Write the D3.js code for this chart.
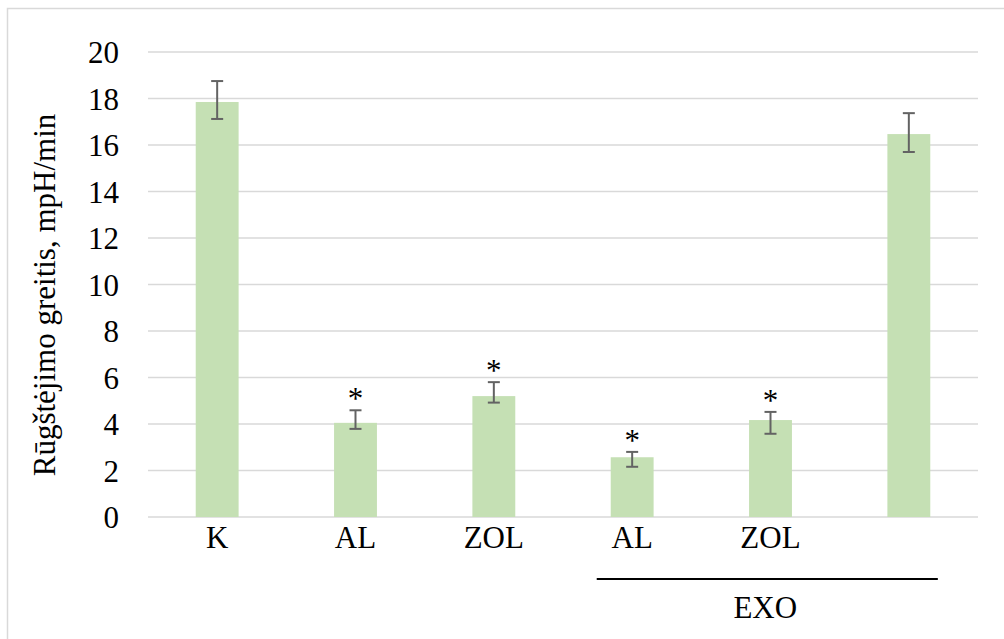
<!DOCTYPE html>
<html>
<head>
<meta charset="utf-8">
<script src="https://cdn.jsdelivr.net/npm/d3@7/dist/d3.min.js"></script>
<style>
  html, body { margin: 0; padding: 0; background: #fff; }
  svg { display: block; }
</style>
</head>
<body>
<svg id="chart" width="1004" height="639"></svg>
<script>
// Acidification rate per treatment (mean, upper and lower error)
const categories = ["K", "AL", "ZOL", "AL", "ZOL", ""];
const values     = [17.85, 4.05, 5.2, 2.57, 4.17, 16.47];
const errPlus    = [0.9, 0.54, 0.6, 0.23, 0.35, 0.9];
const errMinus   = [0.73, 0.26, 0.28, 0.41, 0.59, 0.77];
const significant = [false, true, true, true, true, false];
const yTicks     = [0, 2, 4, 6, 8, 10, 12, 14, 16, 18, 20];
const groupLabel = "EXO";
const groupMembers = [3, 4, 5];
const yTitle = "Rūgštėjimo greitis, mpH/min";

const FONT = "Liberation Serif";
const FONT_SIZE = 31;

const data = categories.map((c, i) => ({
  i, cat: c, v: values[i], hi: values[i] + errPlus[i], lo: values[i] - errMinus[i], sig: significant[i]
}));

const svg = d3.select("#chart");
const plot = { left: 148, right: 978, top: 52, bottom: 517 };

function serif(sel) {
  return sel.attr("font-family", FONT).attr("font-size", FONT_SIZE).attr("fill", "#000");
}

// outer chart frame
svg.append("rect")
  .attr("x", 7.5).attr("y", 8.5)
  .attr("width", 1010).attr("height", 640)
  .attr("fill", "#fff").attr("stroke", "#d9d9d9").attr("stroke-width", 1.5);

const x = d3.scaleBand()
  .domain(d3.range(categories.length))
  .range([plot.left, plot.right])
  .paddingInner(0.69).paddingOuter(0.345);

const y = d3.scaleLinear().domain([0, 20]).range([plot.bottom, plot.top]);

// horizontal gridlines
svg.append("g").selectAll("line").data(yTicks).join("line")
  .attr("x1", plot.left).attr("x2", plot.right)
  .attr("y1", d => y(d)).attr("y2", d => y(d))
  .attr("stroke", "#d9d9d9").attr("stroke-width", 1.5);

// y tick labels
const yAxis = d3.axisLeft(y).tickValues(yTicks).tickSize(0).tickPadding(0);
const gy = svg.append("g").attr("transform", `translate(119,0)`).call(yAxis);
gy.attr("font-family", FONT).attr("font-size", FONT_SIZE);
gy.select(".domain").remove();
serif(gy.selectAll("text")).attr("dy", "0.34em");

// bars
svg.append("g").selectAll("rect").data(data).join("rect")
  .attr("x", d => x(d.i))
  .attr("width", x.bandwidth())
  .attr("y", d => y(d.v))
  .attr("height", d => y(0) - y(d.v))
  .attr("fill", "#c5e0b4");

// error bars
const cx = d => x(d.i) + x.bandwidth() / 2;
const eg = svg.append("g").attr("stroke", "#636363").attr("stroke-width", 2);
eg.selectAll("line.stem").data(data).join("line").attr("class", "stem")
  .attr("x1", cx).attr("x2", cx)
  .attr("y1", d => y(d.hi)).attr("y2", d => y(d.lo));
eg.selectAll("line.capHi").data(data).join("line").attr("class", "capHi")
  .attr("x1", d => cx(d) - 6).attr("x2", d => cx(d) + 6)
  .attr("y1", d => y(d.hi)).attr("y2", d => y(d.hi));
eg.selectAll("line.capLo").data(data).join("line").attr("class", "capLo")
  .attr("x1", d => cx(d) - 6).attr("x2", d => cx(d) + 6)
  .attr("y1", d => y(d.lo)).attr("y2", d => y(d.lo));

// significance markers
serif(svg.append("g").selectAll("text").data(data.filter(d => d.sig)).join("text"))
  .attr("x", cx)
  .attr("y", d => y(d.hi) - 1)
  .attr("text-anchor", "middle")
  .text("*");

// category labels
serif(svg.append("g").selectAll("text").data(data).join("text"))
  .attr("x", cx)
  .attr("y", 548)
  .attr("text-anchor", "middle")
  .text(d => d.cat);

// group bracket for EXO, spanning the last three bars
const gx0 = x(groupMembers[0]) - 14;
const gx1 = cx({ i: groupMembers[groupMembers.length - 1] }) + 29;
svg.append("line")
  .attr("x1", gx0).attr("x2", gx1)
  .attr("y1", 579).attr("y2", 579)
  .attr("stroke", "#000").attr("stroke-width", 2);
serif(svg.append("text"))
  .attr("x", (gx0 + gx1) / 2 - 2)
  .attr("y", 618)
  .attr("text-anchor", "middle")
  .text(groupLabel);

// y-axis title
serif(svg.append("text"))
  .attr("transform", "translate(55,295) rotate(-90)")
  .attr("text-anchor", "middle")
  .text(yTitle);
</script>
</body>
</html>
